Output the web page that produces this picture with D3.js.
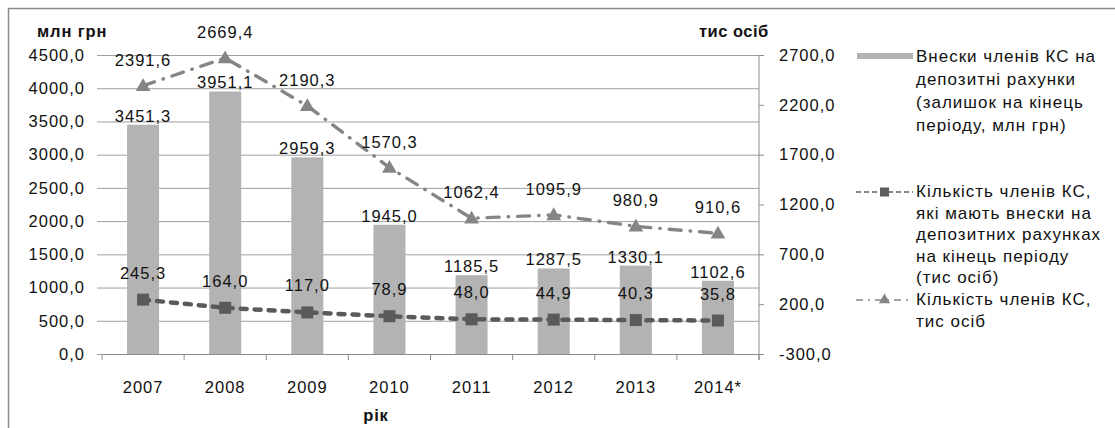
<!DOCTYPE html>
<html>
<head>
<meta charset="utf-8">
<script src="https://cdn.jsdelivr.net/npm/d3@7/dist/d3.min.js"></script>
<style>
  html, body { margin: 0; padding: 0; background: #fff; }
  svg { display: block; }
  text { font-family: "Liberation Sans", Arial, sans-serif; fill: #111; }
</style>
</head>
<body>
<svg id="chart" width="1115" height="428"></svg>
<script>
// ---- data ----
const categories = ["2007", "2008", "2009", "2010", "2011", "2012", "2013", "2014*"];
const deposits = [3451.3, 3951.1, 2959.3, 1945.0, 1185.5, 1287.5, 1330.1, 1102.6];          // млн грн (left axis)
const membersWithDeposits = [245.3, 164.0, 117.0, 78.9, 48.0, 44.9, 40.3, 35.8];            // тис осіб (right axis)
const membersTotal = [2391.6, 2669.4, 2190.3, 1570.3, 1062.4, 1095.9, 980.9, 910.6];        // тис осіб (right axis)
const leftTicks = [0, 500, 1000, 1500, 2000, 2500, 3000, 3500, 4000, 4500];
const rightTicks = [-300, 200, 700, 1200, 1700, 2200, 2700];
const leftTitle = "млн грн";
const rightTitle = "тис осіб";
const xTitle = "рік";
const legendItems = [
  ["Внески членів КС на", "депозитні рахунки", "(залишок на кінець", "періоду, млн грн)"],
  ["Кількість членів КС,", "які мають внески на", "депозитних рахунках", "на кінець періоду", "(тис осіб)"],
  ["Кількість членів КС,", "тис осіб"]
];

const fmt = v => d3.format(".1f")(v).replace(".", ",").replace("−", "-");

const svg = d3.select("#chart");
const FS = 16.5, LS = 1.0;
const FF = "Liberation Sans, Arial, sans-serif";

// frame
svg.append("rect").attr("x", 8.5).attr("y", 8.5).attr("width", 1120).attr("height", 430)
  .attr("fill", "none").attr("stroke", "#8a8a8a").attr("stroke-width", 1.5);

const x0 = 102, x1 = 759, yTop = 55, yBot = 354;
const x = d3.scaleBand().domain(categories).range([x0, x1]).padding(0);
const yL = d3.scaleLinear().domain([0, 4500]).range([yBot, yTop]);
const yR = d3.scaleLinear().domain([-300, 2700]).range([yBot, yTop]);

// gridlines + left axis
const gAxL = svg.append("g").attr("transform", `translate(${x0},0)`)
  .call(d3.axisLeft(yL).tickValues(leftTicks).tickFormat(fmt).tickSize(-(x1 - x0)).tickPadding(18));
gAxL.select(".domain").remove();
gAxL.selectAll(".tick line").attr("stroke", "#a0a0a0").attr("x1", -5);
gAxL.selectAll(".tick text").attr("font-size", FS).attr("letter-spacing", LS).attr("x", -17)
  .attr("font-family", FF).attr("fill", "#111");

// bars
const bw = x.bandwidth() * 0.39;
svg.append("g").selectAll("rect").data(deposits).join("rect")
  .attr("x", (d, i) => x(categories[i]) + x.bandwidth() / 2 - bw / 2)
  .attr("y", d => yL(d))
  .attr("width", bw)
  .attr("height", d => yL(0) - yL(d))
  .attr("fill", "#b3b3b3");

// x axis
const gAxB = svg.append("g").attr("transform", `translate(0,${yBot})`)
  .call(d3.axisBottom(x).tickSize(0).tickPadding(27));
gAxB.select(".domain").attr("stroke", "#8c8c8c");
gAxB.selectAll(".tick text").attr("font-size", FS).attr("letter-spacing", LS)
  .attr("font-family", FF).attr("fill", "#111");
// boundary ticks
svg.append("g").selectAll("line").data(categories.concat(["end"])).join("line")
  .attr("x1", (d, i) => i < categories.length ? x(d) : x1)
  .attr("x2", (d, i) => i < categories.length ? x(d) : x1)
  .attr("y1", yBot).attr("y2", yBot + 6)
  .attr("stroke", "#8c8c8c");

// right axis
const gAxR = svg.append("g").attr("transform", `translate(${x1},0)`)
  .call(d3.axisRight(yR).tickValues(rightTicks).tickFormat(fmt).tickSize(5).tickSizeOuter(0).tickPadding(15));
gAxR.select(".domain").attr("stroke", "#8c8c8c").attr("d", `M0,${yTop}V${yBot + 6}`);
gAxR.selectAll(".tick line").attr("stroke", "#8c8c8c");
gAxR.selectAll(".tick text").attr("font-size", FS).attr("letter-spacing", LS)
  .attr("font-family", FF).attr("fill", "#111");

// axis titles
svg.append("text").attr("x", 37).attr("y", 37).attr("font-size", 16.5).attr("font-weight", "bold")
  .attr("letter-spacing", 0.9).text(leftTitle);
svg.append("text").attr("x", 699).attr("y", 37).attr("font-size", 16.5).attr("font-weight", "bold")
  .attr("letter-spacing", 0.5).text(rightTitle);
svg.append("text").attr("x", 376).attr("y", 421).attr("text-anchor", "middle").attr("font-size", 16.5)
  .attr("font-weight", "bold").attr("letter-spacing", 0.8).text(xTitle);

const cx = i => x(categories[i]) + x.bandwidth() / 2;

// line: members total (triangles, dash-dot)
const lineT = d3.line().x((d, i) => cx(i)).y(d => yR(d));
svg.append("path").datum(membersTotal).attr("d", lineT)
  .attr("fill", "none").attr("stroke", "#858585").attr("stroke-width", 3.4)
  .attr("stroke-linecap", "round").attr("stroke-dasharray", "12 9 0.5 9");
svg.append("g").selectAll("path").data(membersTotal).join("path")
  .attr("d", d3.symbol().type(d3.symbolTriangle).size(95))
  .attr("transform", (d, i) => `translate(${cx(i)},${yR(d) + 1})`)
  .attr("fill", "#858585");

// line: members with deposits (squares, dashed)
svg.append("path").datum(membersWithDeposits).attr("d", lineT)
  .attr("fill", "none").attr("stroke", "#5a5a5a").attr("stroke-width", 4.5)
  .attr("stroke-linecap", "round").attr("stroke-dasharray", "6 8");
svg.append("g").selectAll("rect").data(membersWithDeposits).join("rect")
  .attr("x", (d, i) => cx(i) - 6).attr("y", d => yR(d) - 6)
  .attr("width", 12).attr("height", 12).attr("fill", "#5a5a5a");

// data labels
const lab = (arr, yfn, off) => svg.append("g").selectAll("text").data(arr).join("text")
  .attr("x", (d, i) => cx(i)).attr("y", d => yfn(d) - off)
  .attr("text-anchor", "middle").attr("font-size", FS).attr("letter-spacing", LS).text(d => fmt(d));
lab(deposits, yL, 3);
lab(membersWithDeposits, yR, 21);
lab(membersTotal, yR, 20);

// legend
const lg = svg.append("g");
const lx = 916;
const itemBase = [62, 197, 305];
const lh = [23, 21.5, 22];
legendItems.forEach((lines, k) => {
  lines.forEach((t, j) => {
    lg.append("text").attr("x", lx).attr("y", itemBase[k] + j * lh[k])
      .attr("font-size", 17).attr("letter-spacing", 1.0).text(t);
  });
});
// swatches
lg.append("rect").attr("x", 857).attr("y", itemBase[0] - 9).attr("width", 56).attr("height", 6).attr("fill", "#b3b3b3");
const my2 = itemBase[1] - 5, my3 = itemBase[2] - 5;
lg.append("line").attr("x1", 856).attr("x2", 913).attr("y1", my2).attr("y2", my2)
  .attr("stroke", "#5e5e5e").attr("stroke-width", 1.6).attr("stroke-dasharray", "5 3");
lg.append("rect").attr("x", 880).attr("y", my2 - 4.5).attr("width", 9).attr("height", 9).attr("fill", "#5e5e5e");
lg.append("line").attr("x1", 856).attr("x2", 913).attr("y1", my3).attr("y2", my3)
  .attr("stroke", "#858585").attr("stroke-width", 1.6).attr("stroke-dasharray", "7 5 2 5");
lg.append("path").attr("d", d3.symbol().type(d3.symbolTriangle).size(55))
  .attr("transform", `translate(884.5,${my3})`).attr("fill", "#858585");
</script>
</body>
</html>
